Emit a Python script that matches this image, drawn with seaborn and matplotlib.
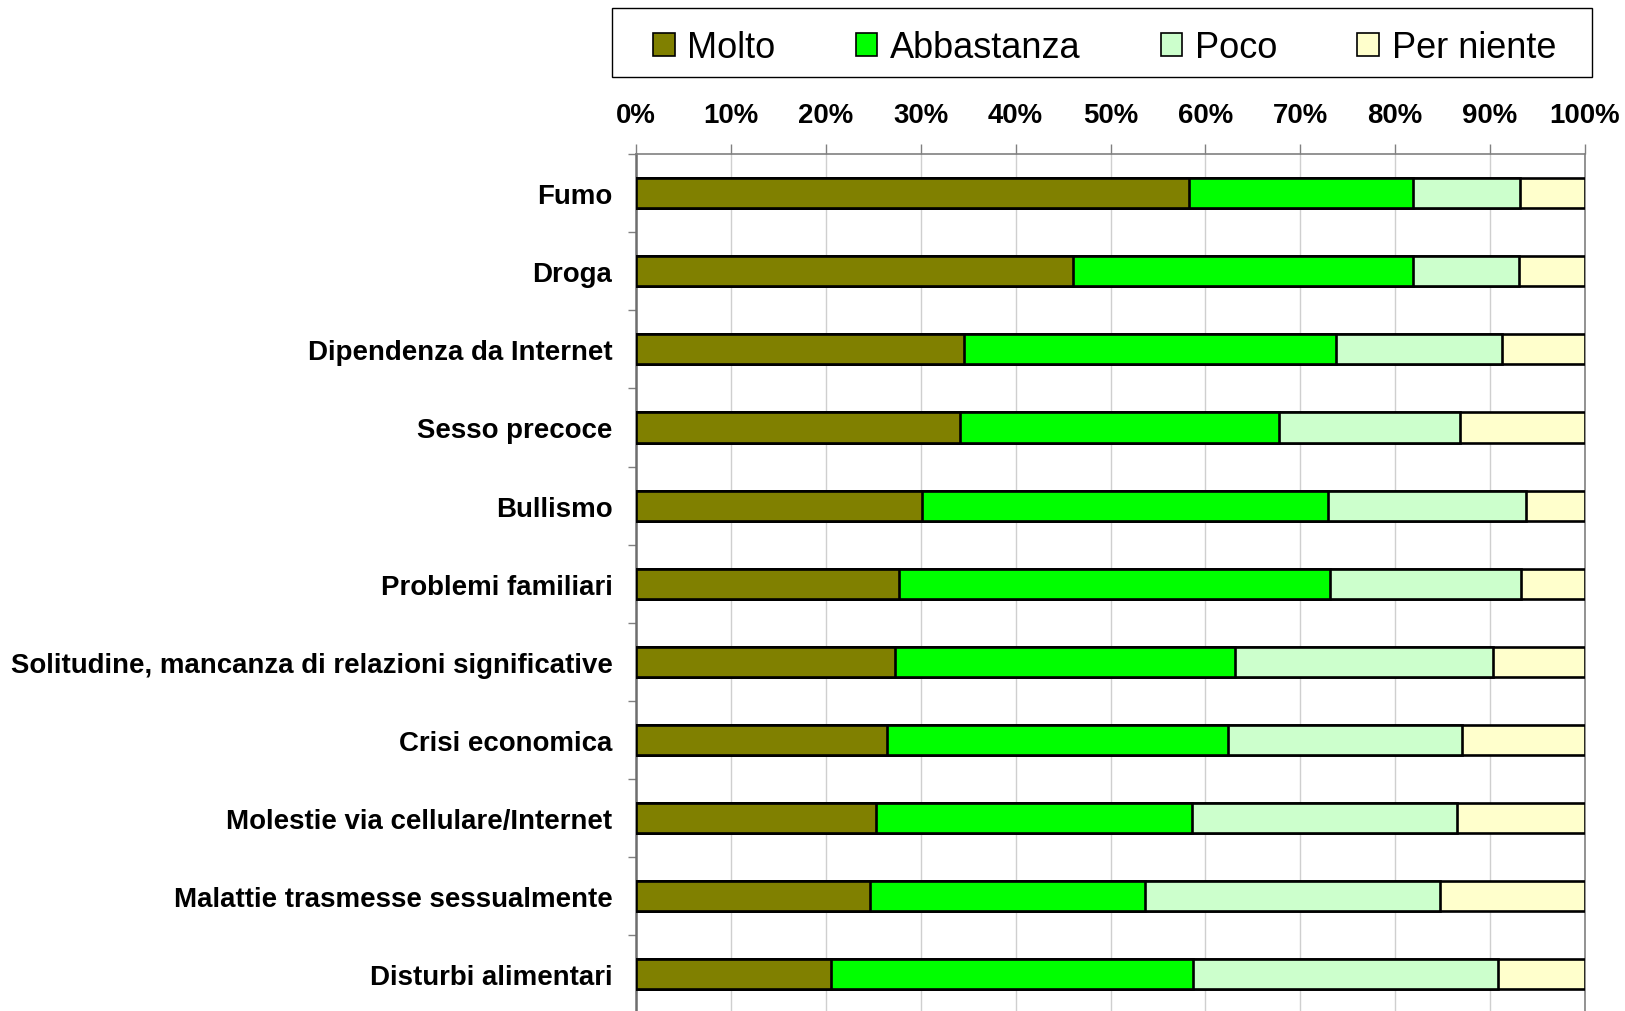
import matplotlib
matplotlib.use("Agg")
import matplotlib.pyplot as plt
import seaborn as sns
import pandas as pd
import numpy as np
from matplotlib.patches import Patch, Rectangle
from matplotlib.ticker import FuncFormatter

# Survey answers (% of respondents) per concern
categories = [
    "Fumo",
    "Droga",
    "Dipendenza da Internet",
    "Sesso precoce",
    "Bullismo",
    "Problemi familiari",
    "Solitudine, mancanza di relazioni significative",
    "Crisi economica",
    "Molestie via cellulare/Internet",
    "Malattie trasmesse sessualmente",
    "Disturbi alimentari",
]
molto = [58.3, 46.1, 34.6, 34.1, 30.1, 27.7, 27.3, 26.5, 25.3, 24.7, 20.5]
abbastanza = [23.6, 35.8, 39.2, 33.7, 42.8, 45.4, 35.8, 35.9, 33.3, 28.9, 38.2]
poco = [11.3, 11.1, 17.5, 19.0, 20.9, 20.2, 27.2, 24.6, 27.9, 31.1, 32.1]
per_niente = [6.8, 7.0, 8.7, 13.2, 6.2, 6.7, 9.7, 13.0, 13.5, 15.3, 9.2]

levels = ["Molto", "Abbastanza", "Poco", "Per niente"]
colors = ["#808000", "#00FF00", "#CCFFCC", "#FFFFCC"]

sns.set_theme(style="white")
plt.rcParams["font.family"] = ["Liberation Sans", "DejaVu Sans"]
plt.rcParams["text.color"] = "black"
plt.rcParams["xtick.labelcolor"] = "black"
plt.rcParams["ytick.labelcolor"] = "black"

df = pd.DataFrame({
    "Problema": categories,
    "Molto": molto,
    "Abbastanza": abbastanza,
    "Poco": poco,
    "Per niente": per_niente,
})
cum = df[levels].cumsum(axis=1)

W, H = 1625, 1012
fig = plt.figure(figsize=(16.25, 10.12), dpi=100)
ax = fig.add_axes([636 / W, -2.5 / H, 949 / W, (1014.5 - 155) / H])

# Stacked bars: draw cumulative totals from the widest down so each segment shows
for i, (level, color) in enumerate(reversed(list(zip(levels, colors)))):
    sns.barplot(
        x=cum[level], y=df["Problema"], orient="h", color=color,
        saturation=1, edgecolor="black", linewidth=1.9, width=0.385,
        ax=ax, zorder=3 + i,
    )

ax.set_xlim(0, 100)
ax.set_ylim(10.5, -0.5)
ax.set_xlabel("")
ax.set_ylabel("")

# Percent axis on top
ax.xaxis.tick_top()
ax.set_xticks(np.arange(0, 101, 10))
ax.xaxis.set_major_formatter(FuncFormatter(lambda v, p: f"{int(v)}%"))
ax.tick_params(axis="x", which="major", top=True, length=7, width=1,
               color="#808080", pad=11.5, labelsize=19.9)
for lab in ax.get_xticklabels():
    lab.set_fontweight("bold")

# Category labels, with tick marks between categories
ax.set_yticks(np.arange(len(categories)))
ax.set_yticklabels(categories, fontsize=19.9, fontweight="bold")
ax.tick_params(axis="y", which="major", length=0, pad=17)
ax.set_yticks(np.arange(-0.5, len(categories), 1), minor=True)
ax.tick_params(axis="y", which="minor", left=True, length=6, width=1,
               color="#808080", direction="out")

ax.grid(axis="x", color="#CFCFCF", linewidth=1)
ax.grid(axis="y", visible=False)
ax.set_axisbelow(True)

for side, sp in ax.spines.items():
    sp.set_visible(True)
    sp.set_color("#808080")
    sp.set_linewidth(1.2)
ax.spines["left"].set_linewidth(1.8)
ax.spines["left"].set_color("#6E6E6E")

# Legend entries spread across a boxed strip above the axis
fig.patches.append(Rectangle(
    (612 / W, 1 - 78 / H), 980 / W, 69 / H, transform=fig.transFigure,
    facecolor="white", edgecolor="black", linewidth=1.0, zorder=1,
))
handles = [Patch(facecolor=c, edgecolor="black", linewidth=1.2, label=l)
           for l, c in zip(levels, colors)]
leg = fig.legend(
    handles=handles, ncol=4, loc="center left",
    bbox_to_anchor=(653 / W, 1 - 83 / H, 903 / W, 68 / H),
    mode="expand", fontsize=26, frameon=False,
    handlelength=0.6, handleheight=0.6,
    handletextpad=0.35, borderpad=0, borderaxespad=0,
)
leg.set_zorder(2)

fig.savefig("out.png", dpi=100)
